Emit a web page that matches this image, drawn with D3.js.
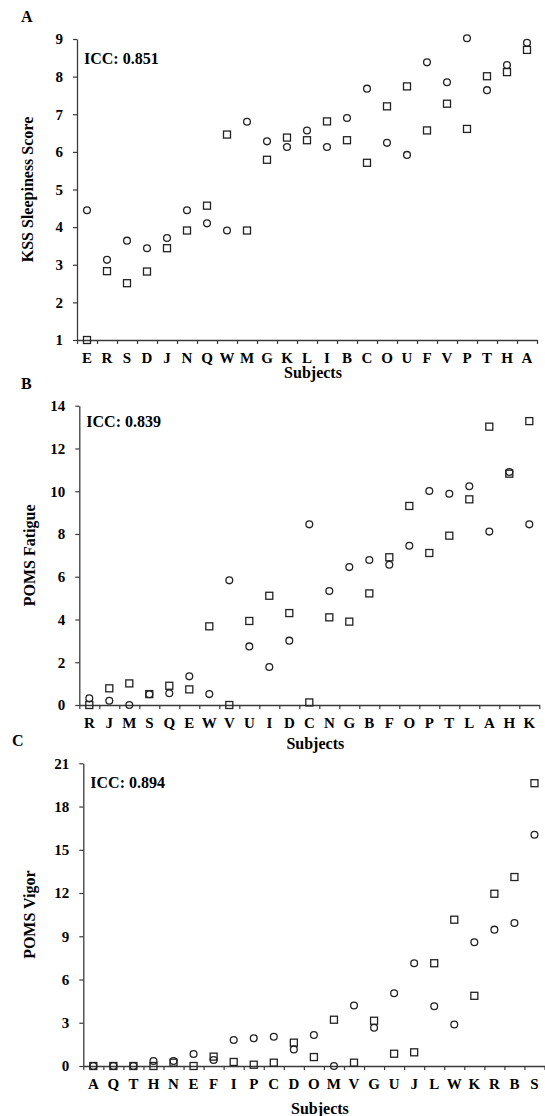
<!DOCTYPE html>
<html><head><meta charset="utf-8">
<script src="https://cdn.jsdelivr.net/npm/d3@7"></script>
<style>
body{margin:0;background:#fff;}
text{font-family:"Liberation Serif","Times New Roman",serif;font-weight:bold;fill:#000;}
</style></head>
<body><svg id="c" width="545" height="1116"></svg>
<script>
const kssSubjects = ["E","R","S","D","J","N","Q","W","M","G","K","L","I","B","C","O","U","F","V","P","T","H","A"];
const kssCircle = [4.45,3.13,3.64,3.44,3.71,4.45,4.10,3.91,6.80,6.28,6.13,6.57,6.13,6.90,7.68,6.24,5.92,8.38,7.85,9.02,7.64,8.31,8.90];
const kssSquare = [1.0,2.83,2.51,2.82,3.44,3.91,4.57,6.46,3.91,5.79,6.38,6.31,6.81,6.31,5.71,7.21,7.74,6.57,7.28,6.61,8.01,8.12,8.71];
const kssTicks = [1,2,3,4,5,6,7,8,9];

const fatigueSubjects = ["R","J","M","S","Q","E","W","V","U","I","D","C","N","G","B","F","O","P","T","L","A","H","K"];
const fatigueCircle = [0.31,0.20,0,0.5,0.55,1.34,0.51,5.83,2.74,1.78,3.01,8.45,5.33,6.45,6.78,6.56,7.45,10.01,9.88,10.23,8.11,10.90,8.45];
const fatigueSquare = [0,0.78,1.01,0.51,0.90,0.73,3.68,0,3.93,5.11,4.30,0.12,4.10,3.90,5.22,6.91,9.31,7.11,7.92,9.62,13.02,10.82,13.28];
const fatigueTicks = [0,2,4,6,8,10,12,14];

const vigorSubjects = ["A","Q","T","H","N","E","F","I","P","C","D","O","M","V","G","U","J","L","W","K","R","B","S"];
const vigorCircle = [0,0,0,0.35,0.35,0.83,0.42,1.80,1.92,2.03,1.15,2.15,0,4.20,2.65,5.05,7.13,4.15,2.88,8.59,9.46,9.92,16.04];
const vigorSquare = [0,0,0,0,0.23,0,0.65,0.28,0.09,0.23,1.62,0.62,3.21,0.23,3.14,0.85,0.95,7.13,10.15,4.87,11.95,13.11,19.62];
const vigorTicks = [0,3,6,9,12,15,18,21];

const svg = d3.select("#c");
const axisColor = "#3a3a3a";

function panel(o){
  const g = svg.append("g");
  const x = d3.scaleBand().domain(o.cats).range([o.x0,o.x1]).padding(0);
  const xi = d3.scaleLinear().domain([0,o.cats.length]).range([o.x0,o.x1]);
  const y = d3.scaleLinear().domain([o.ticks[0],o.ticks[o.ticks.length-1]]).range([o.yb,o.yt]);

  // x axis boundary ticks
  const xa = g.append("g").attr("transform",`translate(0,${o.yb})`)
    .call(d3.axisBottom(xi).tickValues(d3.range(o.cats.length+1)).tickFormat("").tickSize(4).tickSizeOuter(0));
  // labels
  const xl = g.append("g").attr("transform",`translate(0,${o.yb})`)
    .call(d3.axisBottom(x).tickSize(0).tickPadding(12));
  xl.select(".domain").remove();
  xl.selectAll("text").style("font-size","15px").attr("font-family",null);

  const ya = g.append("g").attr("transform",`translate(${o.x0},0)`)
    .call(d3.axisLeft(y).tickValues(o.ticks).tickSize(4).tickSizeOuter(0).tickPadding(10));
  ya.selectAll("text").style("font-size","15px").attr("font-family",null);

  [xa,ya].forEach(a=>{
    a.selectAll(".domain").attr("stroke",axisColor).attr("stroke-width",1.3);
    a.selectAll(".tick line").attr("stroke",axisColor).attr("stroke-width",1.2);
  });

  g.append("text").attr("x",o.lx).attr("y",o.ly).style("font-size","16px").text(o.letter);
  g.append("text").attr("x",o.x0+7).attr("y",o.iccY).style("font-size","16px").text(o.icc);
  g.append("text").attr("transform",`translate(${o.ylx},${(o.yt+o.yb)/2}) rotate(-90)`)
    .attr("text-anchor","middle").style("font-size","16px").text(o.ylabel);
  g.append("text").attr("x",(o.x0+o.x1)/2+6).attr("y",o.subjY).attr("text-anchor","middle")
    .style("font-size","16px").text("Subjects");

  const pts = g.append("g");
  pts.selectAll("circle").data(o.circ).join("circle")
    .attr("cx",(d,i)=>x(o.cats[i])+x.bandwidth()/2).attr("cy",d=>y(d)).attr("r",3.4)
    .attr("fill","none").attr("stroke","#222").attr("stroke-width",1.3);
  pts.selectAll("rect").data(o.sq).join("rect")
    .attr("x",(d,i)=>x(o.cats[i])+x.bandwidth()/2-3.5).attr("y",d=>y(d)-3.5)
    .attr("width",7).attr("height",7)
    .attr("fill","none").attr("stroke","#222").attr("stroke-width",1.3);
}

panel({cats:kssSubjects,circ:kssCircle,sq:kssSquare,ticks:kssTicks,
  x0:77,x1:537,yt:39,yb:340,letter:"A",lx:21,ly:22,icc:"ICC: 0.851",iccY:64,
  ylabel:"KSS Sleepiness Score",ylx:33,subjY:378});
panel({cats:fatigueSubjects,circ:fatigueCircle,sq:fatigueSquare,ticks:fatigueTicks,
  x0:79.3,x1:539.3,yt:405.7,yb:705,letter:"B",lx:21,ly:389,icc:"ICC: 0.839",iccY:427,
  ylabel:"POMS Fatigue",ylx:35,subjY:749});
panel({cats:vigorSubjects,circ:vigorCircle,sq:vigorSquare,ticks:vigorTicks,
  x0:83.3,x1:544.5,yt:763.3,yb:1066,letter:"C",lx:12,ly:746,icc:"ICC: 0.894",iccY:788,
  ylabel:"POMS Vigor",ylx:35,subjY:1114});
</script></body></html>
